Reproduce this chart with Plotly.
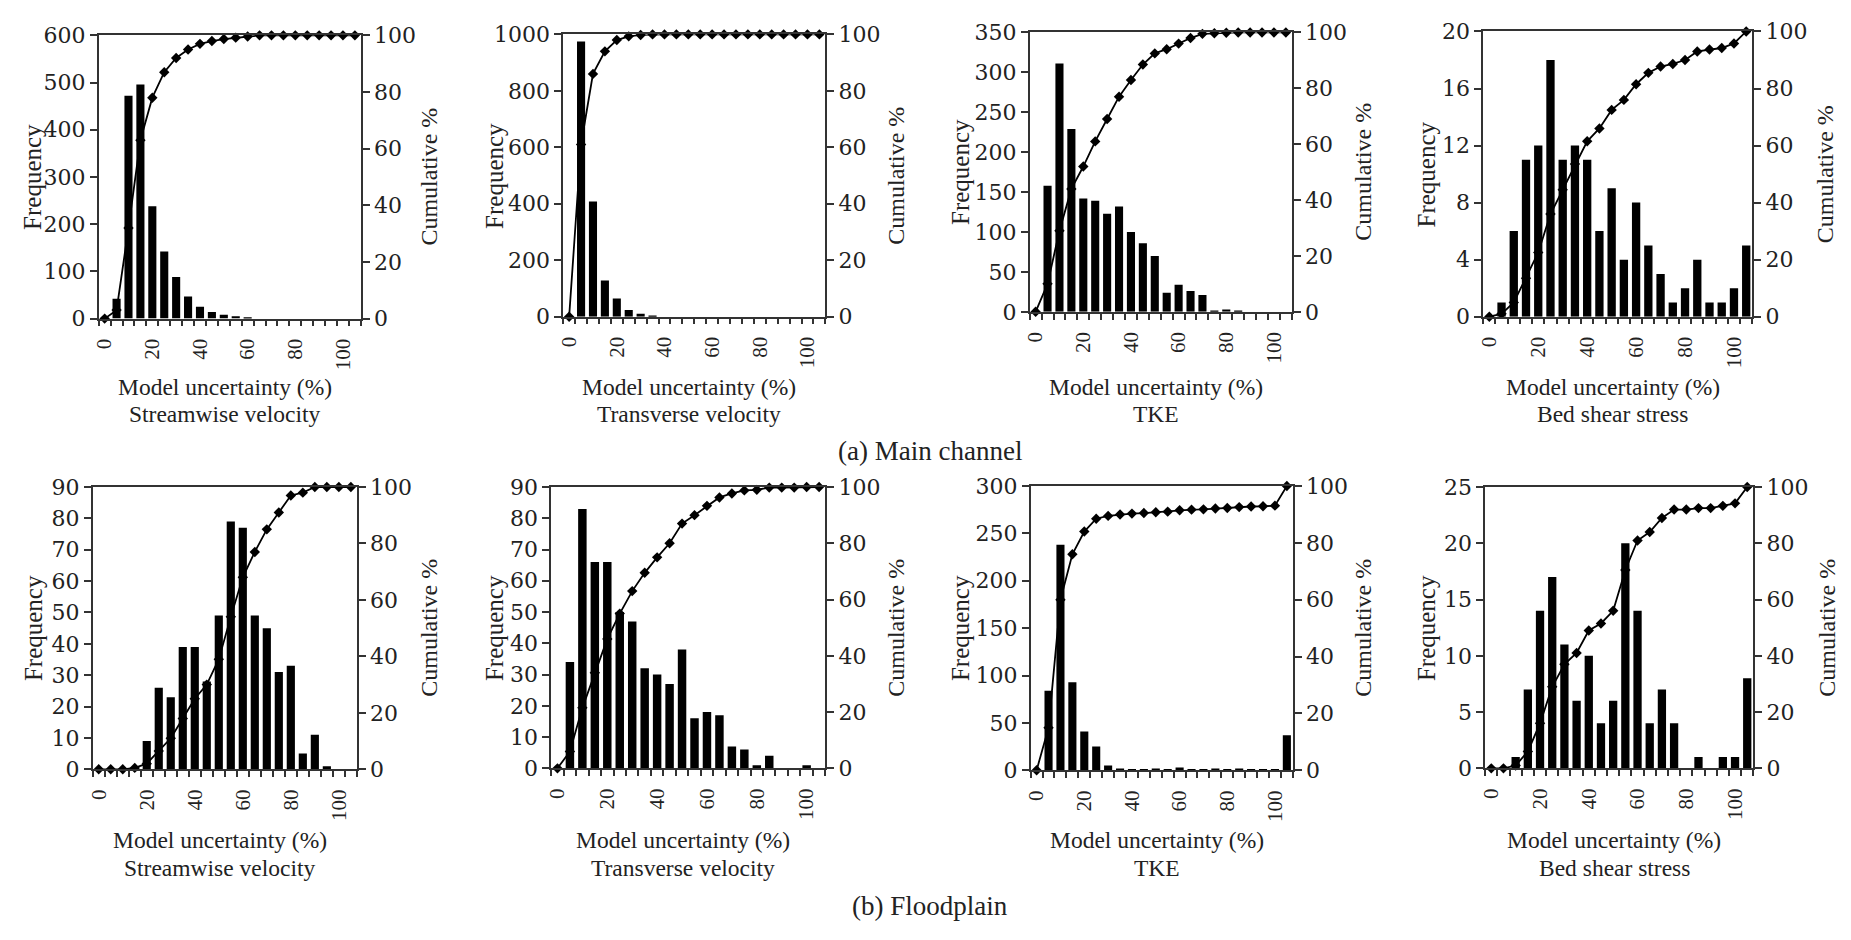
import plotly.graph_objects as go

W, H = 1851, 940

# ---------------- data ----------------
bins = list(range(0, 110, 5))          # model uncertainty classes (%)
x_ticks = [0, 20, 40, 60, 80, 100]

freq_main_stream = [0, 42, 472, 496, 238, 142, 88, 47, 25, 14, 8, 5, 2, 0, 0, 0, 0, 0, 0, 0, 0, 0]
cum_main_stream = [0, 3, 32, 63, 78, 87, 92, 95, 97, 98, 98.7, 99.2, 99.6, 100, 100, 100, 100, 100, 100, 100, 100, 100]

freq_main_trans = [0, 975, 408, 128, 64, 24, 10, 3, 0, 0, 0, 0, 0, 0, 0, 0, 0, 0, 0, 0, 0, 0]
cum_main_trans = [0, 61, 86, 94, 98, 99.3, 99.8, 100, 100, 100, 100, 100, 100, 100, 100, 100, 100, 100, 100, 100, 100, 100]

freq_main_tke = [0, 158, 311, 229, 142, 139, 123, 132, 100, 86, 70, 24, 34, 26, 21, 1, 3, 1, 0, 0, 0, 0]
cum_main_tke = [0, 10, 29, 44, 52, 61, 69, 77, 83, 88.5, 92.5, 94, 96, 98, 99.5, 99.7, 99.9, 100, 100, 100, 100, 100]

freq_main_bss = [0, 1, 6, 11, 12, 18, 11, 12, 11, 6, 9, 4, 8, 5, 3, 1, 2, 4, 1, 1, 2, 5]
cum_main_bss = [0, 1, 5, 13.5, 22.5, 36, 44.5, 53.5, 61.5, 66, 72.5, 76, 81.5, 85.5, 87.7, 88.6, 90, 93, 93.7, 94.2, 95.8, 100]

freq_fp_stream = [0, 0, 0, 0, 9, 26, 23, 39, 39, 28, 49, 79, 77, 49, 45, 31, 33, 5, 11, 1, 0, 0]
cum_fp_stream = [0, 0, 0, 0.5, 2, 6.5, 11, 18, 25, 30, 39, 54, 68, 77, 85, 91, 97, 98, 100, 100, 100, 100]

freq_fp_trans = [0, 34, 83, 66, 66, 50, 47, 32, 30, 27, 38, 16, 18, 17, 7, 6, 1, 4, 0, 0, 1, 0]
cum_fp_trans = [0, 6, 21.5, 34, 46, 55, 63, 69.5, 75, 80, 87, 90, 93.3, 96.3, 97.7, 98.8, 99, 99.8, 99.8, 99.8, 100, 100]

freq_fp_tke = [0, 84, 238, 93, 41, 25, 5, 2, 1, 1, 2, 1, 3, 1, 1, 2, 1, 2, 1, 1, 1, 37]
cum_fp_tke = [0, 15, 60, 76, 84, 88.5, 89.5, 90, 90.3, 90.5, 90.8, 91, 91.5, 91.7, 91.8, 92.1, 92.3, 92.6, 92.8, 92.9, 93.1, 100]

freq_fp_bss = [0, 0, 1, 7, 14, 17, 11, 6, 10, 4, 6, 20, 14, 4, 7, 4, 0, 1, 0, 1, 1, 8]
cum_fp_bss = [0, 0, 1, 6, 16, 29, 37, 41, 49, 51.5, 56, 70.5, 81, 84, 89, 92, 92, 92.5, 92.5, 93.3, 94.2, 100]

subtitles = ["Streamwise velocity", "Transverse velocity", "TKE", "Bed shear stress"] * 2
freq_series = [freq_main_stream, freq_main_trans, freq_main_tke, freq_main_bss,
               freq_fp_stream, freq_fp_trans, freq_fp_tke, freq_fp_bss]
cum_series = [cum_main_stream, cum_main_trans, cum_main_tke, cum_main_bss,
              cum_fp_stream, cum_fp_trans, cum_fp_tke, cum_fp_bss]
freq_max = [600, 1000, 350, 20, 90, 90, 300, 25]
freq_dtick = [100, 200, 50, 4, 10, 10, 50, 5]
section_labels = ["(a) Main channel", "(b) Floodplain"]

# ---------------- layout geometry (pixels) ----------------
# (left, right, top, bottom) of each plot area, freq-title x, cum-title x
boxes = [
    (93, 356, 24, 315, 27, 424),
    (559, 822, 23, 313, 490, 892),
    (1027, 1290, 21, 308, 957, 1362),
    (1482, 1752, 20, 313, 1425, 1825),
    (87, 352, 488, 778, 27, 425),
    (547, 822, 488, 777, 490, 893),
    (1028, 1291, 487, 779, 957, 1362),
    (1484, 1753, 488, 777, 1425, 1827),
]
row_text_y = [(385, 413), (851, 879)]
section_y = [451, 918]

FONT = "Liberation Serif, Times New Roman, serif"
TICKFONT = "DejaVu Serif, serif"
TXT = "#222222"
AX = "#333333"


def px(x):
    return x / W


def py(y):
    return 1 - y / H


fig = go.Figure()
layout = dict(
    width=W, height=H, margin=dict(l=0, r=0, t=0, b=0),
    paper_bgcolor="white", plot_bgcolor="white",
    showlegend=False, font=dict(family=FONT, size=22, color=TXT),
)
annotations = []

boundaries = [b - 2.5 for b in bins] + [bins[-1] + 2.5]

for i in range(8):
    n = i + 1
    xa = "x" if n == 1 else f"x{n}"
    ya_l = "y" if n == 1 else f"y{2 * n - 1}"
    ya_r = f"y{2 * n}"
    l, r, t, b, fx, cx = boxes[i]

    fig.add_trace(go.Bar(x=bins, y=freq_series[i], xaxis=xa, yaxis=ya_l,
                         marker=dict(color="black", line=dict(width=0)), width=3.4))
    fig.add_trace(go.Scatter(x=bins, y=cum_series[i], xaxis=xa, yaxis=ya_r,
                             mode="lines+markers", cliponaxis=False,
                             line=dict(color="black", width=1.8),
                             marker=dict(symbol="diamond", size=8, color="black")))

    xkey = "xaxis" if n == 1 else f"xaxis{n}"
    ylkey = "yaxis" if n == 1 else f"yaxis{2 * n - 1}"
    yrkey = f"yaxis{2 * n}"
    dom_x = [px(l), px(r)]
    dom_y = [py(b), py(t)]

    layout[xkey] = dict(
        domain=dom_x, anchor=ya_l, range=[-2.5, 107.5],
        tickmode="array", tickvals=x_ticks, ticktext=[str(v) for v in x_ticks],
        tickangle=-90, ticks="", ticklabelstandoff=10,
        minor=dict(tickmode="array", tickvals=boundaries, ticks="outside",
                   ticklen=6, tickwidth=1.5, tickcolor=AX),
        showline=True, linecolor=AX, linewidth=1.5, mirror=True,
        showgrid=False, zeroline=False,
        tickfont=dict(family=FONT, size=21, color=TXT),
    )
    layout[ylkey] = dict(
        domain=dom_y, anchor=xa, range=[0, freq_max[i]], dtick=freq_dtick[i],
        ticks="outside", ticklen=7, tickwidth=1.5, tickcolor=AX,
        showline=True, linecolor=AX, linewidth=1.5,
        showgrid=False, zeroline=False,
        tickfont=dict(family=TICKFONT, size=22, color=TXT),
    )
    layout[yrkey] = dict(
        domain=dom_y, anchor=xa, overlaying=ya_l, side="right",
        range=[0, 100], dtick=20,
        ticks="outside", ticklen=7, tickwidth=1.5, tickcolor=AX,
        showline=True, linecolor=AX, linewidth=1.5,
        showgrid=False, zeroline=False,
        tickfont=dict(family=TICKFONT, size=22, color=TXT),
    )

    yc = py((t + b) / 2)
    annotations.append(dict(text="Frequency", x=px(fx), y=yc, xref="paper", yref="paper",
                            textangle=-90, showarrow=False, xanchor="center", yanchor="middle",
                            font=dict(family=FONT, size=25, color=TXT)))
    annotations.append(dict(text="Cumulative %", x=px(cx), y=yc, xref="paper", yref="paper",
                            textangle=-90, showarrow=False, xanchor="center", yanchor="middle",
                            font=dict(family=FONT, size=24, color=TXT)))
    ty1, ty2 = row_text_y[i // 4]
    xc = px((l + r) / 2 - 5)
    annotations.append(dict(text="Model uncertainty (%)", x=xc, y=py(ty1), xref="paper", yref="paper",
                            showarrow=False, xanchor="center", yanchor="middle",
                            font=dict(family=FONT, size=23.5, color=TXT)))
    annotations.append(dict(text=subtitles[i], x=xc, y=py(ty2), xref="paper", yref="paper",
                            showarrow=False, xanchor="center", yanchor="middle",
                            font=dict(family=FONT, size=23.5, color=TXT)))

for k in range(2):
    annotations.append(dict(text=section_labels[k], x=px(927), y=py(section_y[k]),
                            xref="paper", yref="paper", showarrow=False,
                            xanchor="center", yanchor="middle",
                            font=dict(family=FONT, size=27, color=TXT)))

layout["annotations"] = annotations
fig.update_layout(**layout)
fig.write_html("out.html")
